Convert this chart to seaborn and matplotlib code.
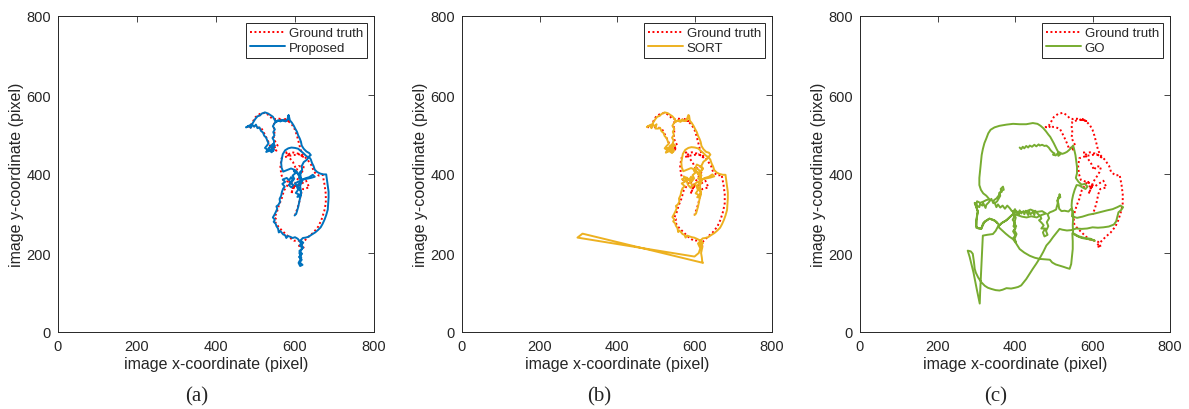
import matplotlib
matplotlib.use("Agg")
import matplotlib.pyplot as plt
import seaborn as sns
import pandas as pd

# ---------------- data (image pixel coordinates) ----------------
gt_xy = [
    (578,537),(570,540),(584,534),(575,536),
    (560,540),(550,539),(541,541),(535,548),(524,555),(511,552),(500,544),(493,532),
    (487,522),(479,519),(485,516),(494,523),(498,519),
    (506,518),(516,514),(523,501),(529,489),
    (534,478),(540,463),(548,470),(553,459),(545,466),(556,472),
    (550,482),(546,493),(548,505),(546,522),(548,532),(560,536),
    (572,538),(582,535),
    (593,524),(600,512),(605,497),(610,478),(614,462),(620,448),(632,436),(643,420),
    (648,405),(660,396),(670,398),(675,372),(678,349),(678,326),(674,306),(667,284),
    (659,267),(647,252),(634,241),(625,232),
    (618,225),(610,218),(622,214),(615,228),(608,232),
    (598,231),(585,240),(572,252),(559,265),(550,278),(552,286),(548,290),(554,303),
    (559,320),(566,337),(572,358),
    (580,370),(588,383),(595,362),(600,372),(590,350),(602,380),
    (612,395),(618,405),(622,418),(610,420),(604,410),
    (595,430),(585,442),(578,455),(580,448),(593,455),(610,451),(623,442),
    (610,450),(585,446),(566,440),(563,420),(565,400),(570,385),
    (590,378),(605,368),(628,383),(636,366),(620,362),(615,349),(611,330),(606,312),(600,297),
]

proposed_xy = [
    (583,548),(581,538),(576,534),(570,537),(563,533),(557,536),(552,531),(548,538),
    (544,545),(538,549),(532,553),(524,556),(516,553),(511,548),(505,546),(500,540),
    (496,534),(492,527),(487,524),
    (480,520),(476,518),(483,522),(488,517),(492,524),(497,520),(501,525),
    (505,516),(510,518),(514,509),(519,505),(522,497),(527,492),(530,484),(533,478),
    (529,472),(524,466),(531,461),(527,456),(536,459),(541,455),(546,462),(540,468),
    (549,472),(544,476),(538,470),(533,465),(545,458),
    (547,484),(543,491),(548,498),(545,506),(549,513),(544,521),(548,528),(552,533),
    (560,535),(568,536),(576,533),(583,540),(584,549),(587,536),
    (592,530),(597,522),(601,514),(605,507),(608,498),(612,490),(615,482),(617,472),
    (622,464),(629,457),(636,453),(640,448),(635,444),(640,437),(643,428),(647,420),
    (650,411),(656,405),(664,401),(672,399),(679,399),(681,385),(683,370),(685,355),
    (685,340),(684,325),(683,310),(679,296),(675,285),(670,274),(665,265),(658,258),
    (651,252),(643,247),(634,241),(627,239),(620,238),
    (614,232),(621,226),(612,220),(619,212),(611,205),(618,198),(610,190),(617,183),
    (612,176),(619,170),(613,167),(609,175),(616,188),(611,200),(620,214),(613,228),
    (607,236),
    (600,240),(594,238),(588,241),(582,243),(578,238),(575,245),(570,247),(566,252),
    (562,256),(559,252),(557,262),(553,268),(551,274),(546,279),(549,284),(544,290),
    (548,297),(552,305),(555,312),(553,318),(558,322),(562,329),(561,337),(565,345),
    (567,355),(570,363),
    (574,368),(568,375),(575,380),(569,386),(579,390),(585,384),(590,392),(594,386),
    (588,378),(596,372),(591,366),(584,372),
    (592,380),(598,388),(594,396),(601,402),(597,408),(604,405),(609,397),(615,404),
    (610,390),(616,384),(607,380),(600,376),
    (604,370),(608,360),(602,352),(610,348),(606,342),(614,344),(616,354),(611,362),
    (606,371),
    (620,386),(630,388),(640,390),(650,393),(645,398),(636,392),(626,389),(617,385),
    (610,398),(600,410),(590,414),(580,410),(570,406),(566,416),(565,428),(567,440),
    (569,450),(575,460),(583,465),(591,467),(600,466),(608,464),(615,458),(622,452),
    (628,446),(634,442),(630,436),(622,430),(617,420),(618,410),(612,404),
    (614,395),(617,380),(613,370),(615,355),(613,340),(610,325),(608,316),(605,306),
    (603,299),(599,295),
]

sort_xy = [
    (584,549),(580,537),(575,535),(569,538),(564,532),(556,535),(551,532),(549,539),
    (543,546),(537,550),(531,554),(523,556),(515,552),(510,547),(504,545),(499,539),
    (495,533),(491,526),(486,523),
    (481,521),(477,519),(484,523),(489,516),(493,525),(498,521),(502,526),(499,515),
    (506,515),(511,517),(515,508),(520,504),(523,496),(528,491),(531,483),(534,477),
    (528,471),(523,465),(530,460),(526,454),(535,458),(542,453),(547,461),(539,469),
    (550,471),(545,477),(537,471),(532,464),(546,457),(529,466),(540,462),
    (546,485),(542,492),(547,499),(544,507),(548,514),(543,522),(547,529),(553,534),
    (561,536),(569,535),(577,534),(584,541),(586,548),(588,535),
    (593,529),(598,521),(602,513),(606,506),(609,497),(613,489),(616,481),(618,471),
    (623,463),(630,456),(637,454),(641,449),(636,443),(641,436),(644,427),(648,419),
    (651,410),(657,404),(665,400),(673,398),(680,398),(682,384),(684,369),(686,354),
    (686,339),(685,324),(684,309),(680,295),(676,284),(671,273),(666,264),(659,257),
    (652,251),(644,246),(635,240),(628,238),(621,237),
    (615,231),(622,225),(613,219),(620,213),(612,224),(618,230),(620,214),(617,200),
    (619,188),(620,178),(622,175),
    (311,249),(298,239),(600,191),
    (611,200),(615,212),(609,224),(616,231),(606,236),
    (599,239),(593,240),(587,242),(581,244),(577,239),(574,246),(569,248),(565,253),
    (561,257),(558,253),(556,263),(552,269),(550,275),(545,280),(548,285),(543,291),
    (547,298),(551,306),(554,313),(552,319),(557,323),(561,330),(560,338),(564,346),
    (566,356),(569,364),
    (575,369),(567,376),(576,381),(568,387),(580,391),(586,385),(591,393),(595,387),
    (587,379),(597,371),(590,365),(583,373),(579,385),(572,394),
    (593,381),(599,389),(595,397),(602,403),(598,410),(606,406),(610,398),(616,405),
    (622,414),(614,420),(606,424),(602,415),(611,411),(618,396),(609,389),(617,383),
    (606,379),(601,375),
    (605,369),(609,359),(603,351),(611,347),(607,341),(615,343),(617,353),(612,361),
    (607,370),
    (621,387),(631,389),(641,391),(651,394),(646,399),(637,393),(627,390),(618,386),
    (611,399),(601,411),(591,415),(581,411),(571,407),(567,417),(566,429),(568,441),
    (570,451),(576,461),(584,466),(592,468),(601,467),(609,465),(616,459),(623,453),
    (629,447),(635,443),(631,437),(623,431),(618,421),(619,411),(613,405),
    (615,396),(618,381),(614,371),(616,356),(614,341),(611,326),(609,317),(606,307),
    (604,300),(600,296),
]

go_xy = [
    (412,467),(416,463),(420,469),(424,465),(429,471),(434,467),(438,472),(444,469),
    (450,474),(455,470),(461,475),(464,472),(470,474),(476,471),(481,472),(487,467),
    (492,460),(497,455),(502,452),(498,449),(505,447),(510,452),(512,446),(517,450),
    (514,455),(522,451),(528,453),(534,456),(540,461),(545,466),(550,472),
    (553,461),(556,448),(558,433),(560,418),(560,402),(557,390),
    (564,380),(572,373),(580,375),(587,368),(582,362),(574,366),(566,371),(559,372),
    (554,360),(550,347),(547,333),(546,320),(548,305),(547,293),
    (560,289),(574,292),(590,297),(606,300),(622,304),(638,308),(652,311),(664,316),
    (672,320),(679,316),(674,309),(667,303),(664,292),(661,280),(655,272),(642,267),
    (628,265),(614,264),(600,265),(586,262),(572,261),(558,262),(546,258),(534,257),
    (522,259),(515,261),
    (506,250),(498,240),(490,229),(481,219),(473,203),(464,187),(455,173),(446,160),
    (437,146),(429,134),(421,124),(416,118),(408,114),(400,112),(390,110),(378,111),
    (368,107),(360,105),(350,106),(339,109),(330,112),(322,117),(313,126),(305,138),
    (299,150),(296,160),
    (294,178),(291,198),(286,204),(278,206),(283,190),(293,150),(301,110),(309,72),
    (310,100),(312,140),(314,180),(316,215),(317,244),
    (328,246),(343,248),(350,256),(356,267),
    (366,276),(378,283),(390,294),(400,303),(390,294),(378,283),(366,276),(356,267),
    (366,258),(376,249),(386,241),(395,235),(403,224),(412,210),(424,201),(438,193),
    (451,188),(464,185),(477,184),(490,183),(496,176),(505,171),(515,168),(525,165),
    (534,162),(541,160),
    (545,172),(547,190),(549,210),(549,230),(548,250),
    (560,243),(572,238),(584,236),(595,234),(606,231),(595,236),(580,238),(565,242),
    (550,250),
    (549,270),(550,290),(550,305),(545,312),
    (538,305),(528,307),(520,306),(514,312),(512,325),(509,333),(513,338),(515,349),
    (517,341),(511,340),(510,325),(506,310),(498,306),(490,303),
    (484,298),(488,288),(482,278),(486,268),(480,256),(484,246),(476,242),(472,252),
    (478,262),(468,262),(474,270),(470,275),(462,283),(468,287),(466,292),(458,300),
    (452,307),(450,296),(446,304),(440,298),(436,306),(434,296),(428,307),(424,298),
    (422,306),(416,300),(412,308),(410,297),(404,302),(400,311),(395,304),
    (398,292),(394,284),(400,276),(396,268),(401,262),(395,255),(401,245),(396,238),
    (402,228),(399,236),(404,248),(398,258),(403,268),(398,275),(402,290),
    (396,298),(406,296),(418,292),(430,290),(442,293),(456,290),(468,296),(480,300),
    (470,306),(455,304),(440,310),(425,304),(410,304),
    (392,306),(386,314),(380,320),(374,312),(368,320),(362,315),(356,323),(352,316),
    (348,326),(354,331),(358,338),(362,345),(359,352),(366,355),(363,362),(369,368),
    (371,360),(364,358),(360,348),(352,338),(346,334),(344,326),(339,337),
    (332,328),(326,322),(324,314),(318,326),(316,320),(310,324),(308,316),(302,320),
    (298,322),(296,327),
    (304,305),(302,295),(300,282),(300,268),(305,262),(313,261),(317,270),(322,280),
    (334,287),(342,284),(352,279),(356,274),(347,283),(334,287),(318,276),(313,262),
    (300,264),(301,285),(304,305),(300,318),
    (302,331),(310,327),(318,330),(326,334),(334,336),
    (326,345),(318,351),(312,360),(308,372),(308,390),(310,410),(312,430),(314,448),
    (317,463),(321,478),(326,490),(331,503),(337,512),(347,518),(360,522),(378,525),
    (395,527),(412,526),(429,526),(446,529),(458,527),(466,522),(473,516),(480,508),
    (486,500),(491,494),(496,485),(500,478),(504,470),(508,462),(512,455),
]

panel_labels = ["(a)", "(b)", "(c)"]
method_names = ["Proposed", "SORT", "GO"]
method_colors = ["#0072BD", "#EDB120", "#77AC30"]
tick_values = [0, 200, 400, 600, 800]

# ---------------- style ----------------
sns.set_style("white")
plt.rcParams["font.family"] = ["Liberation Sans", "DejaVu Sans"]
axis_color = "#262626"

fig = plt.figure(figsize=(11.89, 4.10), dpi=100)
W, H = 1189.0, 410.0
boxes = [(58, 374), (462, 772), (860, 1170)]
top_px, bot_px = 17, 333
letter_x = [197, 599, 996]


def to_df(xy):
    return pd.DataFrame(xy, columns=["x", "y"])


gt_df = to_df(gt_xy)
method_dfs = [to_df(proposed_xy), to_df(sort_xy), to_df(go_xy)]
method_lw = [1.9, 1.7, 1.6]

for i, (l, r) in enumerate(boxes):
    ax = fig.add_axes([l / W, (H - bot_px) / H, (r - l) / W, (bot_px - top_px) / H])
    sns.lineplot(data=gt_df, x="x", y="y", sort=False, estimator=None,
                 color="red", linestyle=(0, (1.0, 1.3)), linewidth=1.4,
                 label="Ground truth", ax=ax, zorder=2)
    sns.lineplot(data=method_dfs[i], x="x", y="y", sort=False, estimator=None,
                 color=method_colors[i], linewidth=method_lw[i], label=method_names[i],
                 ax=ax, zorder=3)
    ax.set_xlim(0, 800)
    ax.set_ylim(0, 800)
    ax.set_xticks(tick_values)
    ax.set_yticks(tick_values)
    ax.tick_params(direction="in", top=True, right=True, length=4, width=0.6,
                   colors=axis_color, labelsize=10.5, pad=5)
    for sp in ax.spines.values():
        sp.set_visible(True)
        sp.set_color(axis_color)
        sp.set_linewidth(0.7)
    ax.set_xlabel("image x-coordinate (pixel)", fontsize=11.5, color=axis_color, labelpad=2)
    ax.set_ylabel("image y-coordinate (pixel)", fontsize=11.5, color=axis_color, labelpad=2)
    handles, labels = ax.get_legend_handles_labels()
    for h in handles:
        h.set_linewidth(1.4)
    leg = ax.legend(handles, labels, loc="upper right", fontsize=9.5,
                    frameon=True, fancybox=False, framealpha=1, edgecolor=axis_color,
                    borderaxespad=0.55, borderpad=0.3, labelspacing=0.15,
                    handlelength=2.6, handletextpad=0.3)
    leg.get_frame().set_linewidth(0.7)
    fig.text(letter_x[i] / W, 1 - 397 / H, panel_labels[i], ha="center", va="center",
             fontsize=15, family=["Liberation Serif", "DejaVu Serif"])

fig.savefig("out.png", dpi=100)
